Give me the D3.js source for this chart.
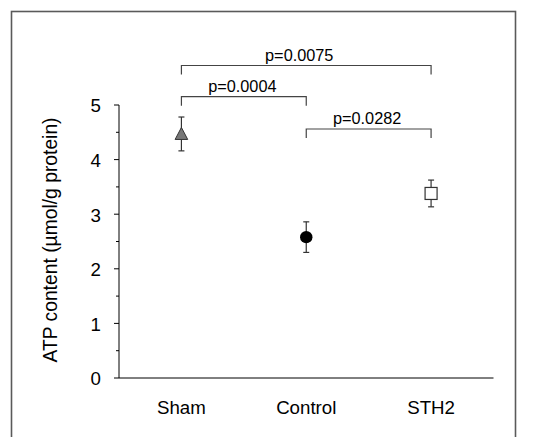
<!DOCTYPE html>
<html>
<head>
<meta charset="utf-8">
<script src="https://cdn.jsdelivr.net/npm/d3@7"></script>
<style>
  html, body { margin: 0; padding: 0; background: #fff; }
  svg { display: block; }
  text { font-family: "Liberation Sans", Arial, sans-serif; fill: #000; }
</style>
</head>
<body>
<div id="chart"></div>
<script>
// ---- data ----
const categories = ["Sham", "Control", "STH2"];
const means = [4.47, 2.58, 3.38];
const errors = [0.31, 0.28, 0.245];
const markers = ["triangle", "circle", "square"];
const yTicks = [0, 1, 2, 3, 4, 5];
const yLabel = "ATP content (µmol/g protein)";
const comparisons = [
  { from: 0, to: 2, label: "p=0.0075", level: 0 },
  { from: 0, to: 1, label: "p=0.0004", level: 1 },
  { from: 1, to: 2, label: "p=0.0282", level: 2 }
];

// ---- layout ----
const W = 533, H = 437;
const svg = d3.select("#chart").append("svg").attr("width", W).attr("height", H);

// outer frame (bottom cut off)
svg.append("rect")
  .attr("x", 11.5).attr("y", 11.5)
  .attr("width", 504).attr("height", 440)
  .attr("fill", "none").attr("stroke", "#5a5a5a").attr("stroke-width", 1.6);

const plotLeft = 119, plotRight = 493.5, plotTop = 105, plotBottom = 378;

const x = d3.scaleLinear().domain([0, categories.length]).range([plotLeft, plotRight]);
const y = d3.scaleLinear().domain([0, 5]).range([plotBottom, plotTop]);
const cx = i => x(i + 0.5);

// y axis
const yAxisG = svg.append("g").attr("transform", `translate(${plotLeft},0)`);
yAxisG.append("line")
  .attr("x1", 0).attr("x2", 0).attr("y1", y(0)).attr("y2", y(5))
  .attr("stroke", "#000").attr("stroke-width", 1);
const minorTicks = d3.range(0.5, 5, 1);
yAxisG.selectAll(".minor").data(minorTicks).enter().append("line")
  .attr("x1", -3).attr("x2", 0)
  .attr("y1", d => y(d)).attr("y2", d => y(d))
  .attr("stroke", "#000");
yAxisG.selectAll(".major").data(yTicks).enter().append("line")
  .attr("x1", -5).attr("x2", 0)
  .attr("y1", d => y(d)).attr("y2", d => y(d))
  .attr("stroke", "#000");
yAxisG.selectAll(".tl").data(yTicks).enter().append("text")
  .attr("x", -18).attr("y", d => y(d)).attr("dy", "0.4em")
  .attr("text-anchor", "end").attr("font-size", 18.7)
  .text(d => d);

// x axis
svg.append("line")
  .attr("x1", plotLeft).attr("x2", plotRight)
  .attr("y1", y(0)).attr("y2", y(0))
  .attr("stroke", "#000").attr("stroke-width", 1);
svg.selectAll(".cat").data(categories).enter().append("text")
  .attr("x", (d, i) => cx(i)).attr("y", 414)
  .attr("text-anchor", "middle").attr("font-size", 18.7)
  .text(d => d);

// y label
svg.append("text")
  .attr("transform", `translate(56.5,240) rotate(-90)`)
  .attr("text-anchor", "middle").attr("font-size", 19.3)
  .text(yLabel);

// error bars
const eb = svg.append("g");
categories.forEach((c, i) => {
  const xc = cx(i);
  const top = y(means[i] + errors[i]), bot = y(means[i] - errors[i]);
  eb.append("line").attr("x1", xc).attr("x2", xc).attr("y1", top).attr("y2", bot)
    .attr("stroke", "#333").attr("stroke-width", 1.2);
  [top, bot].forEach(v => eb.append("line")
    .attr("x1", xc - 3).attr("x2", xc + 3).attr("y1", v).attr("y2", v)
    .attr("stroke", "#333").attr("stroke-width", 1.2));
});

// markers
categories.forEach((c, i) => {
  const xc = cx(i), yc = y(means[i]);
  if (markers[i] === "triangle") {
    svg.append("path")
      .attr("d", `M${xc},${yc - 6.5}L${xc + 6.3},${yc + 5.5}L${xc - 6.3},${yc + 5.5}Z`)
      .attr("fill", "#777").attr("stroke", "#333").attr("stroke-width", 1);
  } else if (markers[i] === "circle") {
    svg.append("circle").attr("cx", xc).attr("cy", yc).attr("r", 6.2)
      .attr("fill", "#000");
  } else {
    svg.append("rect").attr("x", xc - 6).attr("y", yc - 6)
      .attr("width", 12).attr("height", 12)
      .attr("fill", "#fff").attr("stroke", "#333").attr("stroke-width", 1.2);
  }
});

// significance brackets
const bracketY = [65.5, 96.7, 129];
comparisons.forEach(cmp => {
  const by = bracketY[cmp.level];
  const x1 = cx(cmp.from), x2 = cx(cmp.to);
  svg.append("path")
    .attr("d", `M${x1},${by + 9}V${by}H${x2}V${by + 9}`)
    .attr("fill", "none").attr("stroke", "#444").attr("stroke-width", 1.2);
  const off = cmp.level === 0 ? -7 : -1.5;
  svg.append("text")
    .attr("x", (x1 + x2) / 2 + off).attr("y", by - 5)
    .attr("text-anchor", "middle").attr("font-size", 16.3)
    .text(cmp.label);
});
</script>
</body>
</html>
